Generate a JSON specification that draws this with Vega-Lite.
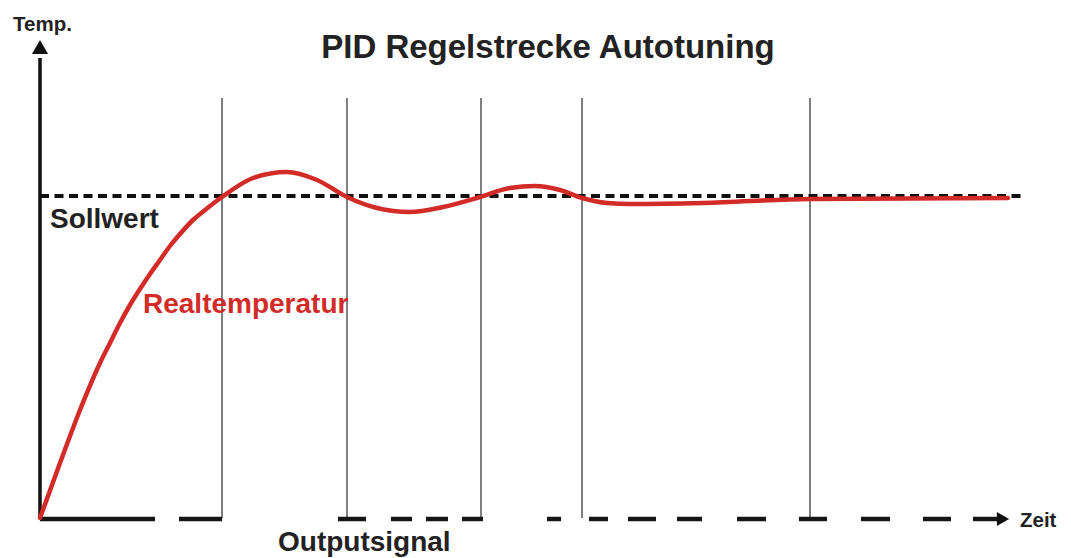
{
  "$schema": "https://vega.github.io/schema/vega-lite/v6.json",
  "width": 1071,
  "height": 558,
  "padding": 0,
  "autosize": {"type": "fit", "contains": "padding"},
  "background": "white",
  "config": {"view": {"stroke": null}},
  "datasets": {
    "curve": [
      {"t": 0, "T": 0}, {"t": 20, "T": 55}, {"t": 40, "T": 108}, {"t": 60, "T": 155},
      {"t": 70, "T": 175}, {"t": 80, "T": 195}, {"t": 90, "T": 213}, {"t": 100, "T": 229},
      {"t": 110, "T": 244}, {"t": 120, "T": 258}, {"t": 130, "T": 272}, {"t": 140, "T": 284},
      {"t": 153, "T": 298}, {"t": 165, "T": 308}, {"t": 182, "T": 321}, {"t": 213, "T": 340},
      {"t": 247, "T": 346}, {"t": 277, "T": 338}, {"t": 307, "T": 321}, {"t": 337, "T": 310},
      {"t": 370, "T": 306}, {"t": 403, "T": 311}, {"t": 440, "T": 321}, {"t": 470, "T": 330},
      {"t": 495, "T": 332}, {"t": 520, "T": 328}, {"t": 542, "T": 320}, {"t": 567, "T": 315},
      {"t": 590, "T": 314}, {"t": 663, "T": 315}, {"t": 770, "T": 319}, {"t": 968, "T": 320}
    ],
    "grid": [{"t": 182}, {"t": 307}, {"t": 441}, {"t": 542}, {"t": 770}],
    "output": [
      {"a": 0, "b": 115}, {"a": 139, "b": 182}, {"a": 298, "b": 326}, {"a": 351, "b": 372},
      {"a": 386, "b": 408}, {"a": 422, "b": 443}, {"a": 507, "b": 521}, {"a": 549, "b": 568},
      {"a": 588, "b": 616}, {"a": 637, "b": 662}, {"a": 697, "b": 726}, {"a": 759, "b": 787},
      {"a": 821, "b": 850}, {"a": 883, "b": 911}, {"a": 933, "b": 960}
    ],
    "labels": [
      {"label": "Temp.", "t": -27, "T": 487, "kind": "axis"},
      {"label": "Zeit", "t": 980, "T": -9, "kind": "axis"},
      {"label": "Sollwert", "t": 10, "T": 290, "kind": "big"},
      {"label": "Outputsignal", "t": 238, "T": -33, "kind": "big"}
    ]
  },
  "layer": [
    {
      "data": {"name": "grid"},
      "mark": {"type": "rule", "color": "#555555", "strokeWidth": 1.5},
      "encoding": {
        "x": {"field": "t", "type": "quantitative", "scale": {"domain": [-40, 1031], "nice": false, "zero": false}, "axis": null},
        "y": {"datum": 0, "type": "quantitative", "scale": {"domain": [-40, 518], "nice": false, "zero": false}, "axis": null},
        "y2": {"datum": 420}
      }
    },
    {
      "data": {"values": [{"s": 322}]},
      "mark": {"type": "rule", "color": "#111111", "strokeWidth": 4, "strokeDash": [9, 5.5]},
      "encoding": {
        "x": {"datum": 0, "type": "quantitative", "scale": {"domain": [-40, 1031], "nice": false, "zero": false}, "axis": null},
        "x2": {"datum": 985},
        "y": {"field": "s", "type": "quantitative", "scale": {"domain": [-40, 518], "nice": false, "zero": false}, "axis": null}
      }
    },
    {
      "data": {"name": "output"},
      "mark": {"type": "rule", "color": "#161616", "strokeWidth": 4.5, "strokeCap": "butt"},
      "encoding": {
        "x": {"field": "a", "type": "quantitative", "scale": {"domain": [-40, 1031], "nice": false, "zero": false}, "axis": null},
        "x2": {"field": "b"},
        "y": {"datum": -1, "type": "quantitative", "scale": {"domain": [-40, 518], "nice": false, "zero": false}, "axis": null}
      }
    },
    {
      "data": {"values": [{"a": 0, "b": 460}]},
      "mark": {"type": "rule", "color": "#111111", "strokeWidth": 3.5},
      "encoding": {
        "x": {"datum": 0, "type": "quantitative", "scale": {"domain": [-40, 1031], "nice": false, "zero": false}, "axis": null},
        "y": {"field": "a", "type": "quantitative", "scale": {"domain": [-40, 518], "nice": false, "zero": false}, "axis": null},
        "y2": {"field": "b"}
      }
    },
    {
      "data": {"name": "curve"},
      "mark": {"type": "line", "color": "#d22b28", "strokeWidth": 4.5, "interpolate": "monotone", "strokeCap": "round"},
      "encoding": {
        "x": {"field": "t", "type": "quantitative", "scale": {"domain": [-40, 1031], "nice": false, "zero": false}, "axis": null},
        "y": {"field": "T", "type": "quantitative", "scale": {"domain": [-40, 518], "nice": false, "zero": false}, "axis": null}
      }
    },
    {
      "data": {"values": [{"t": 0, "T": 471, "shape": "triangle-up", "sz": 260}, {"t": 963, "T": -1, "shape": "triangle-right", "sz": 200}]},
      "mark": {"type": "point", "filled": true, "color": "#111111", "opacity": 1},
      "encoding": {
        "x": {"field": "t", "type": "quantitative", "scale": {"domain": [-40, 1031], "nice": false, "zero": false}, "axis": null},
        "y": {"field": "T", "type": "quantitative", "scale": {"domain": [-40, 518], "nice": false, "zero": false}, "axis": null},
        "shape": {"field": "shape", "type": "nominal", "scale": null, "legend": null},
        "size": {"field": "sz", "type": "quantitative", "scale": null, "legend": null}
      }
    },
    {
      "data": {"name": "labels"},
      "transform": [{"filter": "datum.kind == 'big'"}],
      "mark": {"type": "text", "align": "left", "baseline": "alphabetic", "font": "Liberation Sans", "fontWeight": "bold", "fontSize": 28, "color": "#222222"},
      "encoding": {
        "x": {"field": "t", "type": "quantitative", "scale": {"domain": [-40, 1031], "nice": false, "zero": false}, "axis": null},
        "y": {"field": "T", "type": "quantitative", "scale": {"domain": [-40, 518], "nice": false, "zero": false}, "axis": null},
        "text": {"field": "label"}
      }
    },
    {
      "data": {"name": "labels"},
      "transform": [{"filter": "datum.kind == 'axis'"}],
      "mark": {"type": "text", "align": "left", "baseline": "alphabetic", "font": "Liberation Sans", "fontWeight": "bold", "fontSize": 20.5, "color": "#222222"},
      "encoding": {
        "x": {"field": "t", "type": "quantitative", "scale": {"domain": [-40, 1031], "nice": false, "zero": false}, "axis": null},
        "y": {"field": "T", "type": "quantitative", "scale": {"domain": [-40, 518], "nice": false, "zero": false}, "axis": null},
        "text": {"field": "label"}
      }
    },
    {
      "data": {"values": [{"label": "Realtemperatur", "t": 103, "T": 205}]},
      "mark": {"type": "text", "align": "left", "baseline": "alphabetic", "font": "Liberation Sans", "fontWeight": "bold", "fontSize": 28, "color": "#d22b28"},
      "encoding": {
        "x": {"field": "t", "type": "quantitative", "scale": {"domain": [-40, 1031], "nice": false, "zero": false}, "axis": null},
        "y": {"field": "T", "type": "quantitative", "scale": {"domain": [-40, 518], "nice": false, "zero": false}, "axis": null},
        "text": {"field": "label"}
      }
    },
    {
      "data": {"values": [{"label": "PID Regelstrecke Autotuning", "t": 508, "T": 460}]},
      "mark": {"type": "text", "align": "center", "baseline": "alphabetic", "font": "Liberation Sans", "fontWeight": "bold", "fontSize": 33, "color": "#222222"},
      "encoding": {
        "x": {"field": "t", "type": "quantitative", "scale": {"domain": [-40, 1031], "nice": false, "zero": false}, "axis": null},
        "y": {"field": "T", "type": "quantitative", "scale": {"domain": [-40, 518], "nice": false, "zero": false}, "axis": null},
        "text": {"field": "label"}
      }
    }
  ]
}
